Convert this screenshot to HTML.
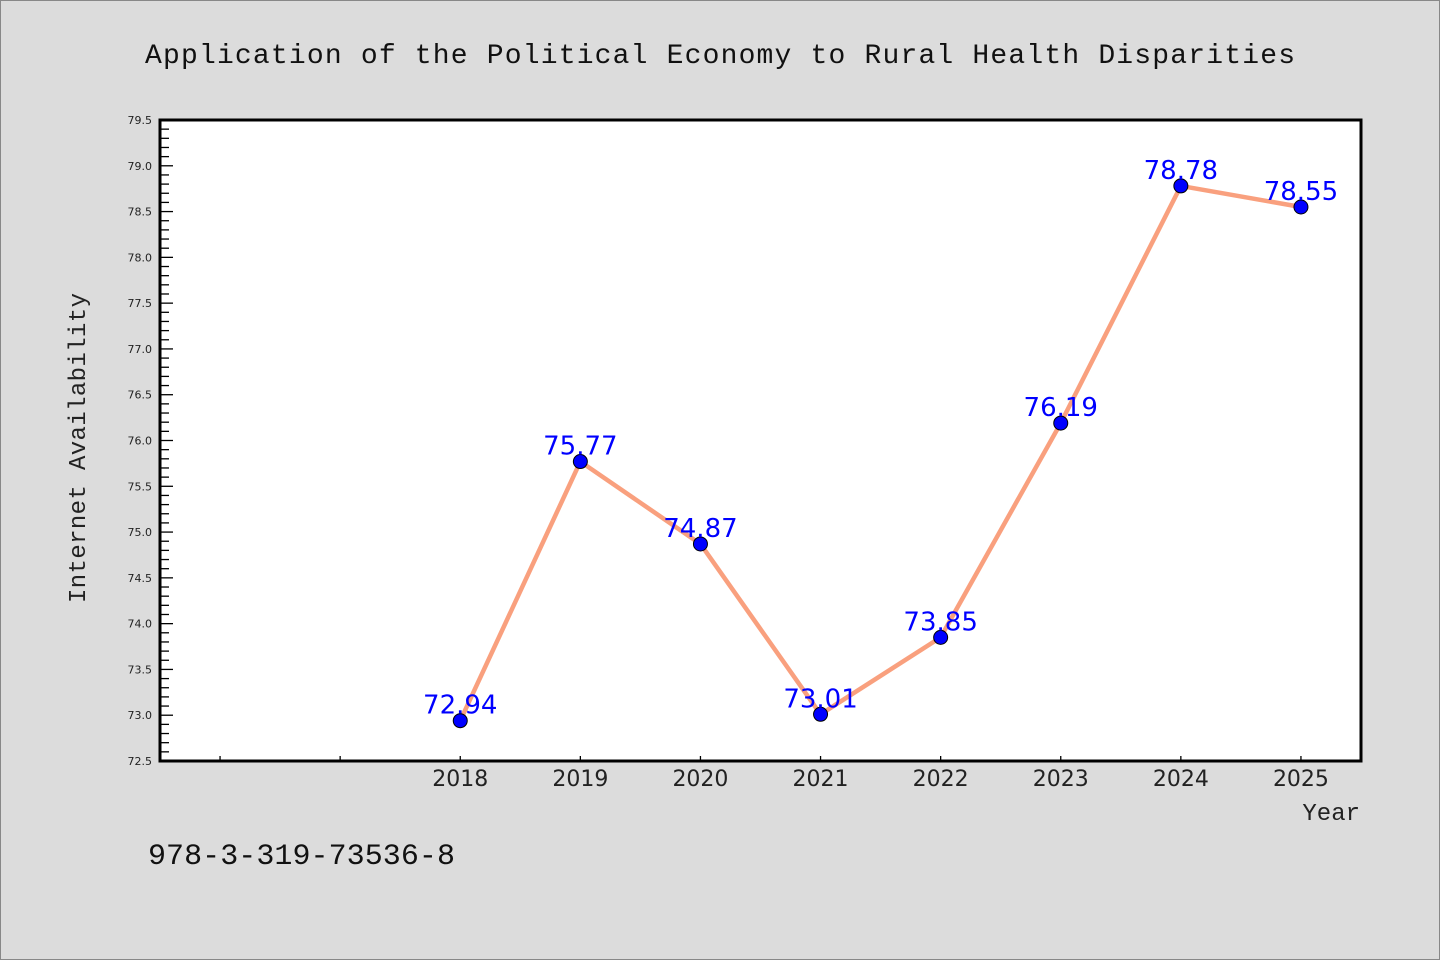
<!DOCTYPE html>
<html><head><meta charset="utf-8"><style>
html,body{margin:0;padding:0;background:#dcdcdc;}
svg{display:block;}
</style></head><body>
<svg id="chart" width="1440" height="960" xmlns="http://www.w3.org/2000/svg">
<rect x="0.5" y="0.5" width="1439" height="959" fill="#dcdcdc" stroke="#888"/>
<text x="720" y="63" text-anchor="middle" font-family="Liberation Mono, monospace" font-size="28" textLength="1150" fill="#111">Application of the Political Economy to Rural Health Disparities</text>
<rect x="160" y="120" width="1201" height="641" fill="#fff"/>
<g id="yticks"></g>
<g id="xticks"></g>
<g id="series"></g>
<rect x="160" y="120" width="1201" height="641" fill="none" stroke="#000" stroke-width="3"/>
<text transform="translate(85,448) rotate(-90)" text-anchor="middle" font-family="Liberation Mono, monospace" font-size="24" textLength="310" fill="#222">Internet Availability</text>
<text x="1360" y="820" text-anchor="end" font-family="Liberation Mono, monospace" font-size="24" fill="#222">Year</text>
<text x="148" y="864" font-family="Liberation Mono, monospace" font-size="30" textLength="307" fill="#111">978-3-319-73536-8</text>
</svg>
<script>
const categories = [2018, 2019, 2020, 2021, 2022, 2023, 2024, 2025];
const values = [72.94, 75.77, 74.87, 73.01, 73.85, 76.19, 78.78, 78.55];
const valueLabels = ["72.94", "75.77", "74.87", "73.01", "73.85", "76.19", "78.78", "78.55"];
const yTickLabels = ["72.5","73.0","73.5","74.0","74.5","75.0","75.5","76.0","76.5","77.0","77.5","78.0","78.5","79.0","79.5"];
const yMin = 72.5, yMax = 79.5, xMin = 2015.5, xMax = 2025.5;
const L=160,R=1361,T=120,B=761;
const NS="http://www.w3.org/2000/svg";
function sx(v){return L+(v-xMin)/(xMax-xMin)*(R-L);}
function sy(v){return B-(v-yMin)/(yMax-yMin)*(B-T);}
function mk(tag,attrs,parent){const e=document.createElementNS(NS,tag);for(const k in attrs)e.setAttribute(k,attrs[k]);parent.appendChild(e);return e;}
const yg=document.getElementById('yticks');
for(let i=0;i<=70;i++){const v=yMin+i*0.1;const y=sy(v);const major=i%5===0;
 const t=mk('line',{x1:L,x2:L+(major?13:9),y1:y,y2:y,stroke:'#000','stroke-width':1.3},yg);
 
 }
yTickLabels.forEach(s=>{const v=parseFloat(s);const t=mk('text',{x:L-8,y:sy(v)+4,'text-anchor':'end','font-family':'DejaVu Sans, sans-serif','font-size':11,fill:'#222'},yg);t.textContent=s;
 
 });
const xg=document.getElementById('xticks');
[2016,2017].concat(categories).forEach(c=>{const x=sx(c);const t=mk('line',{x1:x,x2:x,y1:B,y2:B-5,stroke:'#000','stroke-width':1.3},xg);
 
 });
categories.forEach(c=>{const t=mk('text',{x:sx(c),y:B+25,'text-anchor':'middle','font-family':'DejaVu Sans, sans-serif','font-size':22,fill:'#222'},xg);t.textContent=String(c);
 
 });
const sg=document.getElementById('series');
const pts=categories.map((c,i)=>sx(c)+','+sy(values[i])).join(' ');
const pl=mk('polyline',{points:pts,fill:'none',stroke:'#f9a07e','stroke-width':4.5,'stroke-linejoin':'round'},sg);


categories.forEach((c,i)=>{const p=mk('circle',{cx:sx(c),cy:sy(values[i]),r:7,fill:'#0000ff',stroke:'#000','stroke-width':1},sg);
 
 
 const t=mk('text',{x:sx(c),y:sy(values[i])-7,'text-anchor':'middle','font-family':'DejaVu Sans, sans-serif','font-size':26,fill:'#0000ff'},sg);t.textContent=valueLabels[i];
 
 });
</script>
</body></html>
